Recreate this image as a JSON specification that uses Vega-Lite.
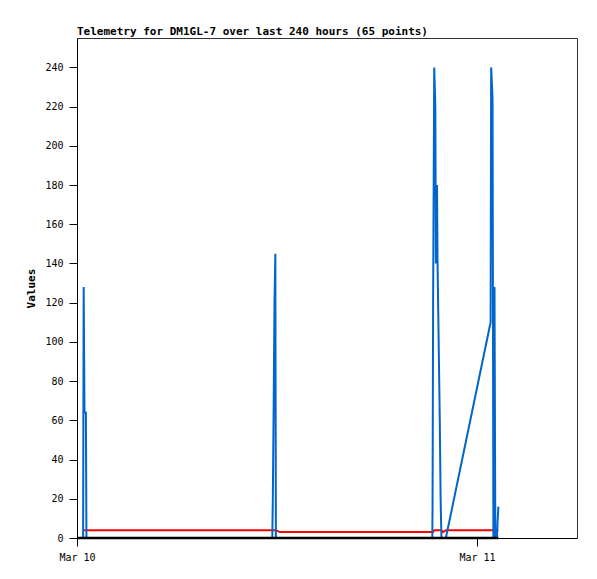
{
  "$schema": "https://vega.github.io/schema/vega-lite/v6.json",
  "width": 500,
  "height": 500,
  "autosize": "none",
  "padding": {"left": 77, "top": 38, "right": 20, "bottom": 41},
  "background": "white",
  "title": {"text": "Telemetry for DM1GL-7 over last 240 hours (65 points)", "anchor": "start", "frame": "group", "font": "DejaVu Sans Mono", "fontSize": 11, "fontWeight": "bold", "color": "black", "offset": 1},
  "config": {
    "view": {"stroke": "#333333"},
    "axis": {"grid": false, "domainColor": "black", "tickColor": "black", "labelColor": "black", "labelFont": "DejaVu Sans Mono", "labelFontSize": 10, "tickSize": 8, "titleFont": "DejaVu Sans Mono", "titleFontWeight": "bold", "titleFontSize": 11, "titleColor": "black"}
  },
  "data": {"values": [
    {"t": "2024-03-10T00:00:00", "a": null, "b": null, "c": 0},
    {"t": "2024-03-10T00:22:00", "a": 0, "b": 4, "c": 0},
    {"t": "2024-03-10T00:24:00", "a": 128, "b": 4, "c": 0},
    {"t": "2024-03-10T00:27:00", "a": 64, "b": 4, "c": 0},
    {"t": "2024-03-10T00:32:00", "a": 64, "b": 4, "c": 0},
    {"t": "2024-03-10T00:34:00", "a": 0, "b": 4, "c": 0},
    {"t": "2024-03-10T11:43:00", "a": 0, "b": 4, "c": 0},
    {"t": "2024-03-10T11:45:00", "a": 20, "b": 4, "c": 0},
    {"t": "2024-03-10T11:48:00", "a": 68, "b": 4, "c": 0},
    {"t": "2024-03-10T11:51:00", "a": 121, "b": 4, "c": 0},
    {"t": "2024-03-10T11:54:00", "a": 145, "b": 4, "c": 0},
    {"t": "2024-03-10T11:56:00", "a": 0, "b": 4, "c": 0},
    {"t": "2024-03-10T12:10:00", "a": 0, "b": 3, "c": 0},
    {"t": "2024-03-10T21:19:00", "a": 0, "b": 3, "c": 0},
    {"t": "2024-03-10T21:20:00", "a": 16, "b": 3, "c": 0},
    {"t": "2024-03-10T21:22:00", "a": 120, "b": 3, "c": 0},
    {"t": "2024-03-10T21:26:00", "a": 240, "b": 4, "c": 0},
    {"t": "2024-03-10T21:30:00", "a": 220, "b": 4, "c": 0},
    {"t": "2024-03-10T21:32:00", "a": 140, "b": 4, "c": 0},
    {"t": "2024-03-10T21:36:00", "a": 180, "b": 4, "c": 0},
    {"t": "2024-03-10T21:38:00", "a": 140, "b": 4, "c": 0},
    {"t": "2024-03-10T21:42:00", "a": 100, "b": 4, "c": 0},
    {"t": "2024-03-10T21:46:00", "a": 60, "b": 4, "c": 0},
    {"t": "2024-03-10T21:49:00", "a": 20, "b": 4, "c": 0},
    {"t": "2024-03-10T21:52:00", "a": 0, "b": 4, "c": 0},
    {"t": "2024-03-10T21:58:00", "a": 0, "b": 3, "c": 0},
    {"t": "2024-03-10T22:08:00", "a": 0, "b": 4, "c": 0},
    {"t": "2024-03-11T00:49:00", "a": 110, "b": 4, "c": 0},
    {"t": "2024-03-11T00:51:00", "a": 240, "b": 4, "c": 0},
    {"t": "2024-03-11T00:56:00", "a": 224, "b": 4, "c": 0},
    {"t": "2024-03-11T00:59:00", "a": 0, "b": 4, "c": 0},
    {"t": "2024-03-11T01:03:00", "a": 128, "b": 4, "c": 0},
    {"t": "2024-03-11T01:06:00", "a": 0, "b": 4, "c": 0},
    {"t": "2024-03-11T01:12:00", "a": 0, "b": 4, "c": 0},
    {"t": "2024-03-11T01:14:00", "a": 8, "b": 4, "c": 0},
    {"t": "2024-03-11T01:17:00", "a": 16, "b": 4, "c": 0}
  ]},
  "encoding": {
    "x": {"field": "t", "type": "temporal",
      "scale": {"domain": [{"year": 2024, "month": 3, "date": 10}, {"year": 2024, "month": 3, "date": 11, "hours": 6}]},
      "axis": {"title": null, "values": [{"year": 2024, "month": 3, "date": 10}, {"year": 2024, "month": 3, "date": 11}], "format": "%b %d", "labelPadding": 6, "labelAlign": "center", "labelFlush": false}}
  },
  "layer": [
    {"mark": {"type": "line", "color": "#ff0000", "strokeWidth": 2},
     "encoding": {"y": {"field": "b", "type": "quantitative", "scale": {"domain": [0, 255], "nice": false}, "axis": {"title": "Values", "values": [0, 20, 40, 60, 80, 100, 120, 140, 160, 180, 200, 220, 240], "titlePadding": 8, "labelPadding": 6}}}},
    {"mark": {"type": "line", "color": "#0066cc", "strokeWidth": 2},
     "encoding": {"y": {"field": "a", "type": "quantitative", "axis": {"title": "Values"}}}},
    {"mark": {"type": "line", "color": "#000000", "strokeWidth": 2.5},
     "encoding": {"y": {"field": "c", "type": "quantitative", "axis": {"title": "Values"}}}}
  ]
}
